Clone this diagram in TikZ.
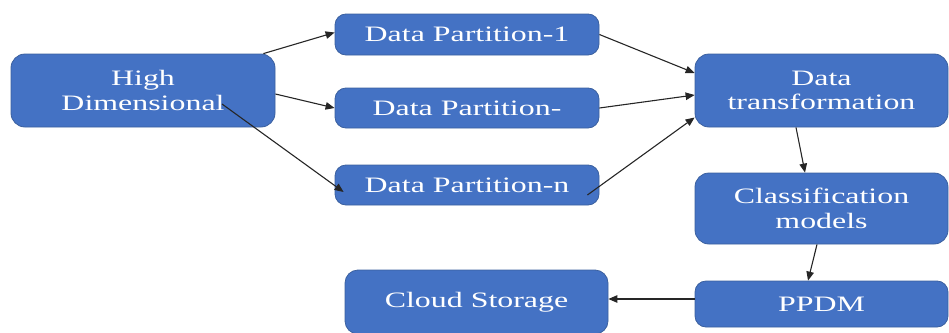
\documentclass[tikz,border=0pt]{standalone}
\usepackage{fontspec}
\setmainfont{Liberation Serif}[FakeStretch=1.45]
\usetikzlibrary{arrows.meta}
\definecolor{boxblue}{HTML}{4472C4}
\definecolor{boxedge}{HTML}{3B609F}

\begin{document}
\begin{tikzpicture}[x=1pt,y=-1pt,>={Triangle[length=9pt,width=7.5pt]},
  blk/.style={draw=boxedge,fill=boxblue,line width=0.8pt,rounded corners=11pt,
    text=white,align=center,inner sep=0pt,
    font=\fontsize{22}{24.5}\selectfont},
  link/.style={->,line width=1.1pt,draw=black!85}]
\useasboundingbox (0,0) rectangle (949,332);

%---------------- Source ----------------
\node[blk,minimum width=264pt,minimum height=73pt,rounded corners=14pt] (hd) at (143,90.5) {High\\Dimensional};

%---------------- Partitions ----------------
\node[blk,minimum width=264pt,minimum height=41pt] (dp1) at (467,34.5) {Data Partition-1};
\node[blk,minimum width=264pt,minimum height=40pt] (dp2) at (467,108) {Data Partition-};
\node[blk,minimum width=264pt,minimum height=40pt] (dpn) at (467,185) {Data Partition-n};

%---------------- Right column ----------------
\node[blk,minimum width=253pt,minimum height=73pt,rounded corners=14pt] (dt) at (821.5,90.5) {Data\\transformation};
\node[blk,minimum width=253pt,minimum height=71pt,rounded corners=14pt] (cm) at (821.5,208.5) {Classification\\models};
\node[blk,minimum width=253pt,minimum height=46pt] (ppdm) at (821.5,304) {PPDM};

% Storage
\node[blk,minimum width=263pt,minimum height=64pt,rounded corners=13pt] (cloud) at (476.5,302) {Cloud Storage};

%---------------- Connectors ----------------
\draw[link] ([xshift=-12pt]hd.north east) -- ([yshift=2pt]dp1.west);
\draw[link] ([yshift=-3.5pt]hd.east) -- (dp2.west);
\draw[link] ([xshift=79pt,yshift=-13.5pt]hd.center) -- ([xshift=9pt,yshift=-7pt]dpn.west);

\draw[link] (dp1.east) -- ([yshift=17.5pt]dt.west);
\draw[link] (dp2.east) -- ([yshift=-4.5pt]dt.west);
\draw[link] ([xshift=-12pt,yshift=-10pt]dpn.east) -- ([yshift=-27pt]dt.west);

\draw[link] ([xshift=-25.5pt]dt.south) -- ([xshift=-16.5pt]cm.north);
\draw[link] ([xshift=-4.5pt]cm.south) -- ([xshift=-13.5pt]ppdm.north);
\draw[link] ([yshift=5pt]ppdm.west) -- ([yshift=5pt]ppdm.west -| cloud.east);

\end{tikzpicture}
\end{document}
